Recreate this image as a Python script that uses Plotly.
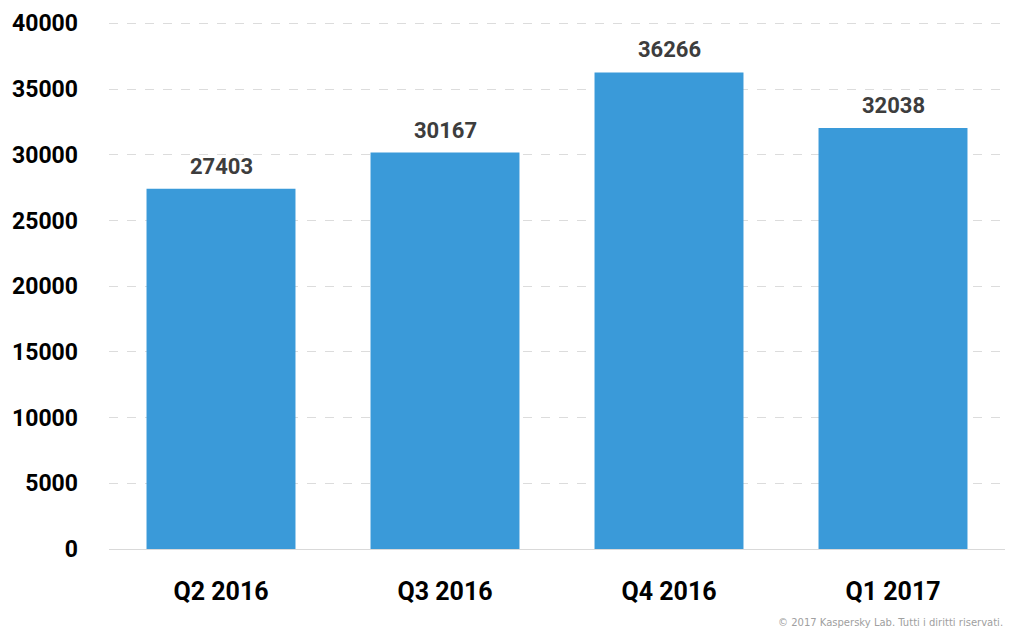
import plotly.graph_objects as go

quarters = ["Q2 2016", "Q3 2016", "Q4 2016", "Q1 2017"]
counts = [27403, 30167, 36266, 32038]
y_ticks = [0, 5000, 10000, 15000, 20000, 25000, 30000, 35000, 40000]

font_main = "Roboto, Liberation Sans, sans-serif"

fig = go.Figure(go.Bar(
    x=quarters,
    y=counts,
    marker=dict(color="#3a9ad9", line=dict(width=0)),
    hoverinfo="x+y",
))

# value labels above each bar
for q, v in zip(quarters, counts):
    fig.add_annotation(
        x=q, y=v, text=str(v),
        showarrow=False, yanchor="bottom", yshift=8,
        font=dict(family=font_main, size=22, color="#3d3d3d", weight="bold"),
    )

# page body has an 8px margin, so the figure is sized a little smaller
fig.update_layout(
    width=1007,
    height=629,
    margin=dict(l=101, r=10, t=14, b=88),
    paper_bgcolor="white",
    plot_bgcolor="white",
    bargap=0.335,
    showlegend=False,
    font=dict(family=font_main, color="black"),
)

fig.update_yaxes(
    range=[0, 40100],
    tickvals=y_ticks,
    ticktext=[str(t) for t in y_ticks],
    tickfont=dict(family=font_main, size=23, color="black", weight="bold"),
    showgrid=True,
    gridcolor="#dcdcdc",
    griddash="dash",
    gridwidth=1,
    zeroline=False,
    ticklabelstandoff=30,
    automargin=False,
)

fig.update_xaxes(
    tickfont=dict(family=font_main, size=25, color="black", weight="bold"),
    showline=True,
    linecolor="#d9d9d9",
    linewidth=1,
    ticklabelstandoff=20,
    automargin=False,
)

fig.add_annotation(
    text="© 2017 Kaspersky Lab. Tutti i diritti riservati.",
    xref="paper", yref="paper",
    x=1, y=-0.14,
    xanchor="right", yanchor="middle",
    showarrow=False,
    font=dict(family="DejaVu Sans, sans-serif", size=10, color="#a0a0a0"),
)

fig.write_html("out.html")
